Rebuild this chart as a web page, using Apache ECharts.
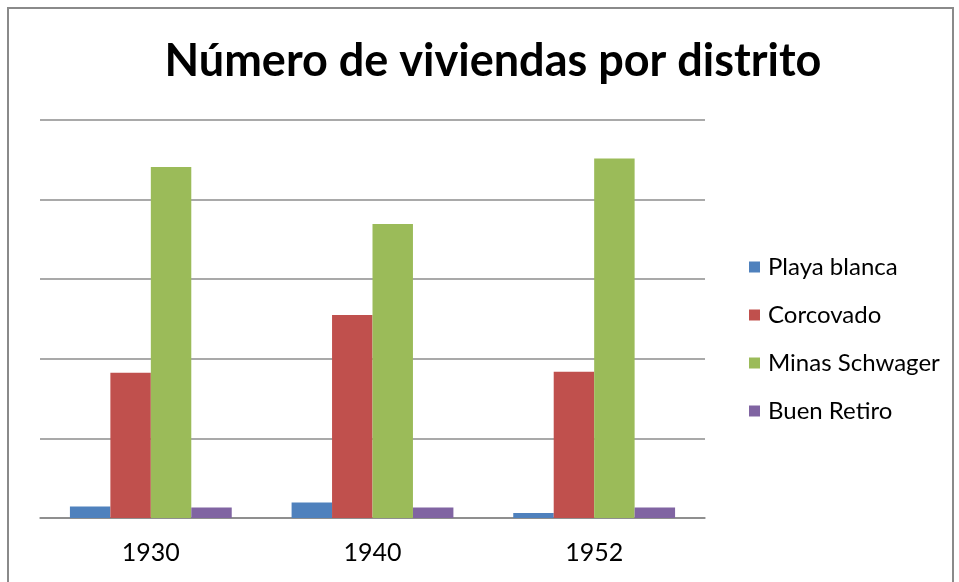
<!DOCTYPE html>
<html>
<head>
<meta charset="utf-8">
<script src="https://cdn.jsdelivr.net/npm/echarts@6/dist/echarts.min.js"></script>
<style>
  html, body { margin: 0; padding: 0; background: #fff; }
  #chart { width: 959px; height: 582px; }
</style>
</head>
<body>
<div id="chart"></div>
<script>
// data (units: gridline steps of 1000)
const years = ['1930', '1940', '1952'];
const playaBlanca = [143, 194, 63];
const corcovado = [1824, 2550, 1836];
const minasSchwager = [4408, 3694, 4516];
const buenRetiro = [131, 131, 131];

const seriesNames = ['Playa blanca', 'Corcovado', 'Minas Schwager', 'Buen Retiro'];
const seriesData = [playaBlanca, corcovado, minasSchwager, buenRetiro];
const colors = ['#4F81BD', '#C0504D', '#9BBB59', '#8064A2'];

const font = 'Lato, "Open Sans", sans-serif';

const myChart = echarts.init(document.getElementById('chart'), null, { renderer: 'canvas' });

const option = {
  animation: false,
  color: colors,
  title: {
    text: 'Número de viviendas por distrito',
    left: 488,
    textAlign: 'center',
    top: 34,
    textStyle: { fontFamily: font, fontWeight: 'bold', fontSize: 45, color: '#000' }
  },
  graphic: [{
    type: 'rect',
    shape: { x: 8, y: 8, width: 945, height: 600 },
    style: { fill: 'none', stroke: '#8a8a8a', lineWidth: 2 },
    silent: true
  }],
  legend: {
    orient: 'vertical',
    left: 749,
    top: 255,
    padding: 0,
    itemWidth: 11,
    itemHeight: 11,
    itemGap: 24,
    icon: 'rect',
    textStyle: { fontFamily: font, fontSize: 24, color: '#000', padding: [0, 0, 0, 3] },
    data: seriesNames
  },
  grid: { left: 40, right: 254, top: 120, bottom: 64 },
  xAxis: {
    type: 'category',
    data: years,
    axisTick: { show: false },
    axisLine: { lineStyle: { color: '#868686', width: 1.5 } },
    axisLabel: { fontFamily: font, fontSize: 25, color: '#000', margin: 22 }
  },
  yAxis: {
    type: 'value',
    min: 0,
    max: 5000,
    interval: 1000,
    axisLabel: { show: false },
    axisLine: { show: false },
    axisTick: { show: false },
    splitLine: { lineStyle: { color: '#8c8c8c', width: 1.5 } }
  },
  series: seriesNames.map((name, i) => ({
    name: name,
    type: 'bar',
    data: seriesData[i],
    barGap: '0%',
    barCategoryGap: '27%',
    itemStyle: { color: colors[i] }
  }))
};

myChart.setOption(option);
window.addEventListener('resize', myChart.resize);
</script>
</body>
</html>
